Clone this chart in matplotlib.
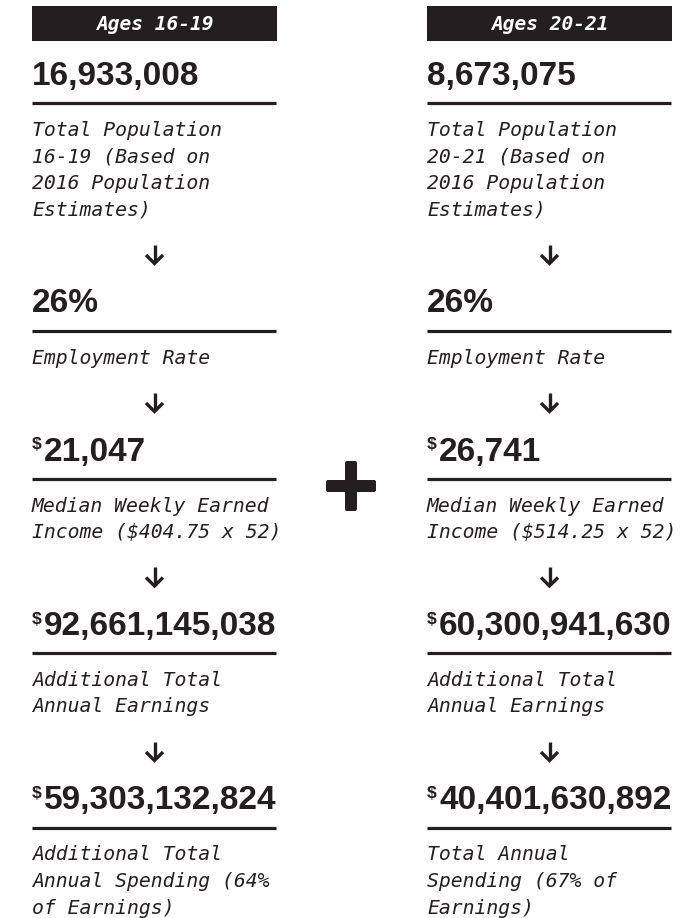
import matplotlib
matplotlib.use("Agg")
import matplotlib.pyplot as plt
from matplotlib.patches import Rectangle, FancyBboxPatch

# ---- data ----
groups = ["Ages 16-19", "Ages 20-21"]
population = [16933008, 8673075]
employment_rate = [26, 26]
weekly_income = [404.75, 514.25]
median_income = [21047, 26741]
additional_earnings = [92661145038, 60300941630]
annual_spending = [59303132824, 40401630892]
spending_pct = [64, 67]

desc_population = [["Total Population", "16-19 (Based on", "2016 Population", "Estimates)"],
                   ["Total Population", "20-21 (Based on", "2016 Population", "Estimates)"]]
desc_employment = [["Employment Rate"], ["Employment Rate"]]
desc_income = [["Median Weekly Earned", "Income ($404.75 x 52)"],
               ["Median Weekly Earned", "Income ($514.25 x 52)"]]
desc_earnings = [["Additional Total", "Annual Earnings"],
                 ["Additional Total", "Annual Earnings"]]
desc_spending = [["Additional Total", "Annual Spending (64%", "of Earnings)"],
                 ["Total Annual", "Spending (67% of", "Earnings)"]]

DARK = "#231f20"
W, H = 700, 918
fig = plt.figure(figsize=(W / 100, H / 100), dpi=100)
ax = fig.add_axes([0, 0, 1, 1])
ax.set_xlim(0, W)
ax.set_ylim(H, 0)
ax.axis("off")

col_left = [32, 427]
col_w = 245

NUM_FONT = dict(family="Liberation Sans", weight="bold", size=24, color=DARK)
DESC_FONT = dict(family="DejaVu Sans Mono", style="italic", size=14.2, color=DARK)


def draw_arrow(xc, yc):
    top, bot = yc - 10, yc + 9
    ax.plot([xc, xc], [top, bot - 1.5], color=DARK, lw=2.4, solid_capstyle="butt")
    ax.plot([xc - 8.5, xc, xc + 8.5], [bot - 8.5, bot, bot - 8.5], color=DARK, lw=2.4,
            solid_joinstyle="miter", solid_capstyle="butt")


for c in range(2):
    x0 = col_left[c]
    xc = x0 + col_w / 2
    # header box
    ax.add_patch(Rectangle((x0, 6), col_w, 35, color=DARK, lw=0))
    ax.text(xc, 24, groups[c], ha="center", va="center", color="white",
            family="DejaVu Sans Mono", style="italic", weight="bold", size=14)

    sections = [
        (f"{population[c]:,}", False, desc_population[c]),
        (f"{employment_rate[c]}%", False, desc_employment[c]),
        (f"{median_income[c]:,}", True, desc_income[c]),
        (f"{additional_earnings[c]:,}", True, desc_earnings[c]),
        (f"{annual_spending[c]:,}", True, desc_spending[c]),
    ]
    y = 74
    for i, (num, dollar, desc) in enumerate(sections):
        base = y + 11
        if dollar:
            ax.text(x0, base - 23.5, "$", ha="left", va="top", family="Liberation Sans",
                    weight="bold", size=12.5, color=DARK)
            ax.text(x0 + 12, base, num, ha="left", va="baseline", **NUM_FONT)
        else:
            ax.text(x0, base, num, ha="left", va="baseline", **NUM_FONT)
        rule = y + 29
        ax.plot([x0, x0 + col_w - 1], [rule, rule], color=DARK, lw=2.3, solid_capstyle="butt")
        for k, line in enumerate(desc):
            ly = rule + 27 + 26.5 * k
            ax.text(x0, ly + 6, line, ha="left", va="baseline", **DESC_FONT)
        last = rule + 27 + 26.5 * (len(desc) - 1)
        if i < len(sections) - 1:
            ay = last + 45
            draw_arrow(xc, ay)
            y = ay + 47

# plus sign
ax.add_patch(FancyBboxPatch((327, 481), 48, 10, boxstyle="round,pad=1,rounding_size=2",
                            color=DARK, lw=0))
ax.add_patch(FancyBboxPatch((346, 462), 10, 48, boxstyle="round,pad=1,rounding_size=2",
                            color=DARK, lw=0))

fig.savefig("out.png", dpi=100, facecolor="white")
